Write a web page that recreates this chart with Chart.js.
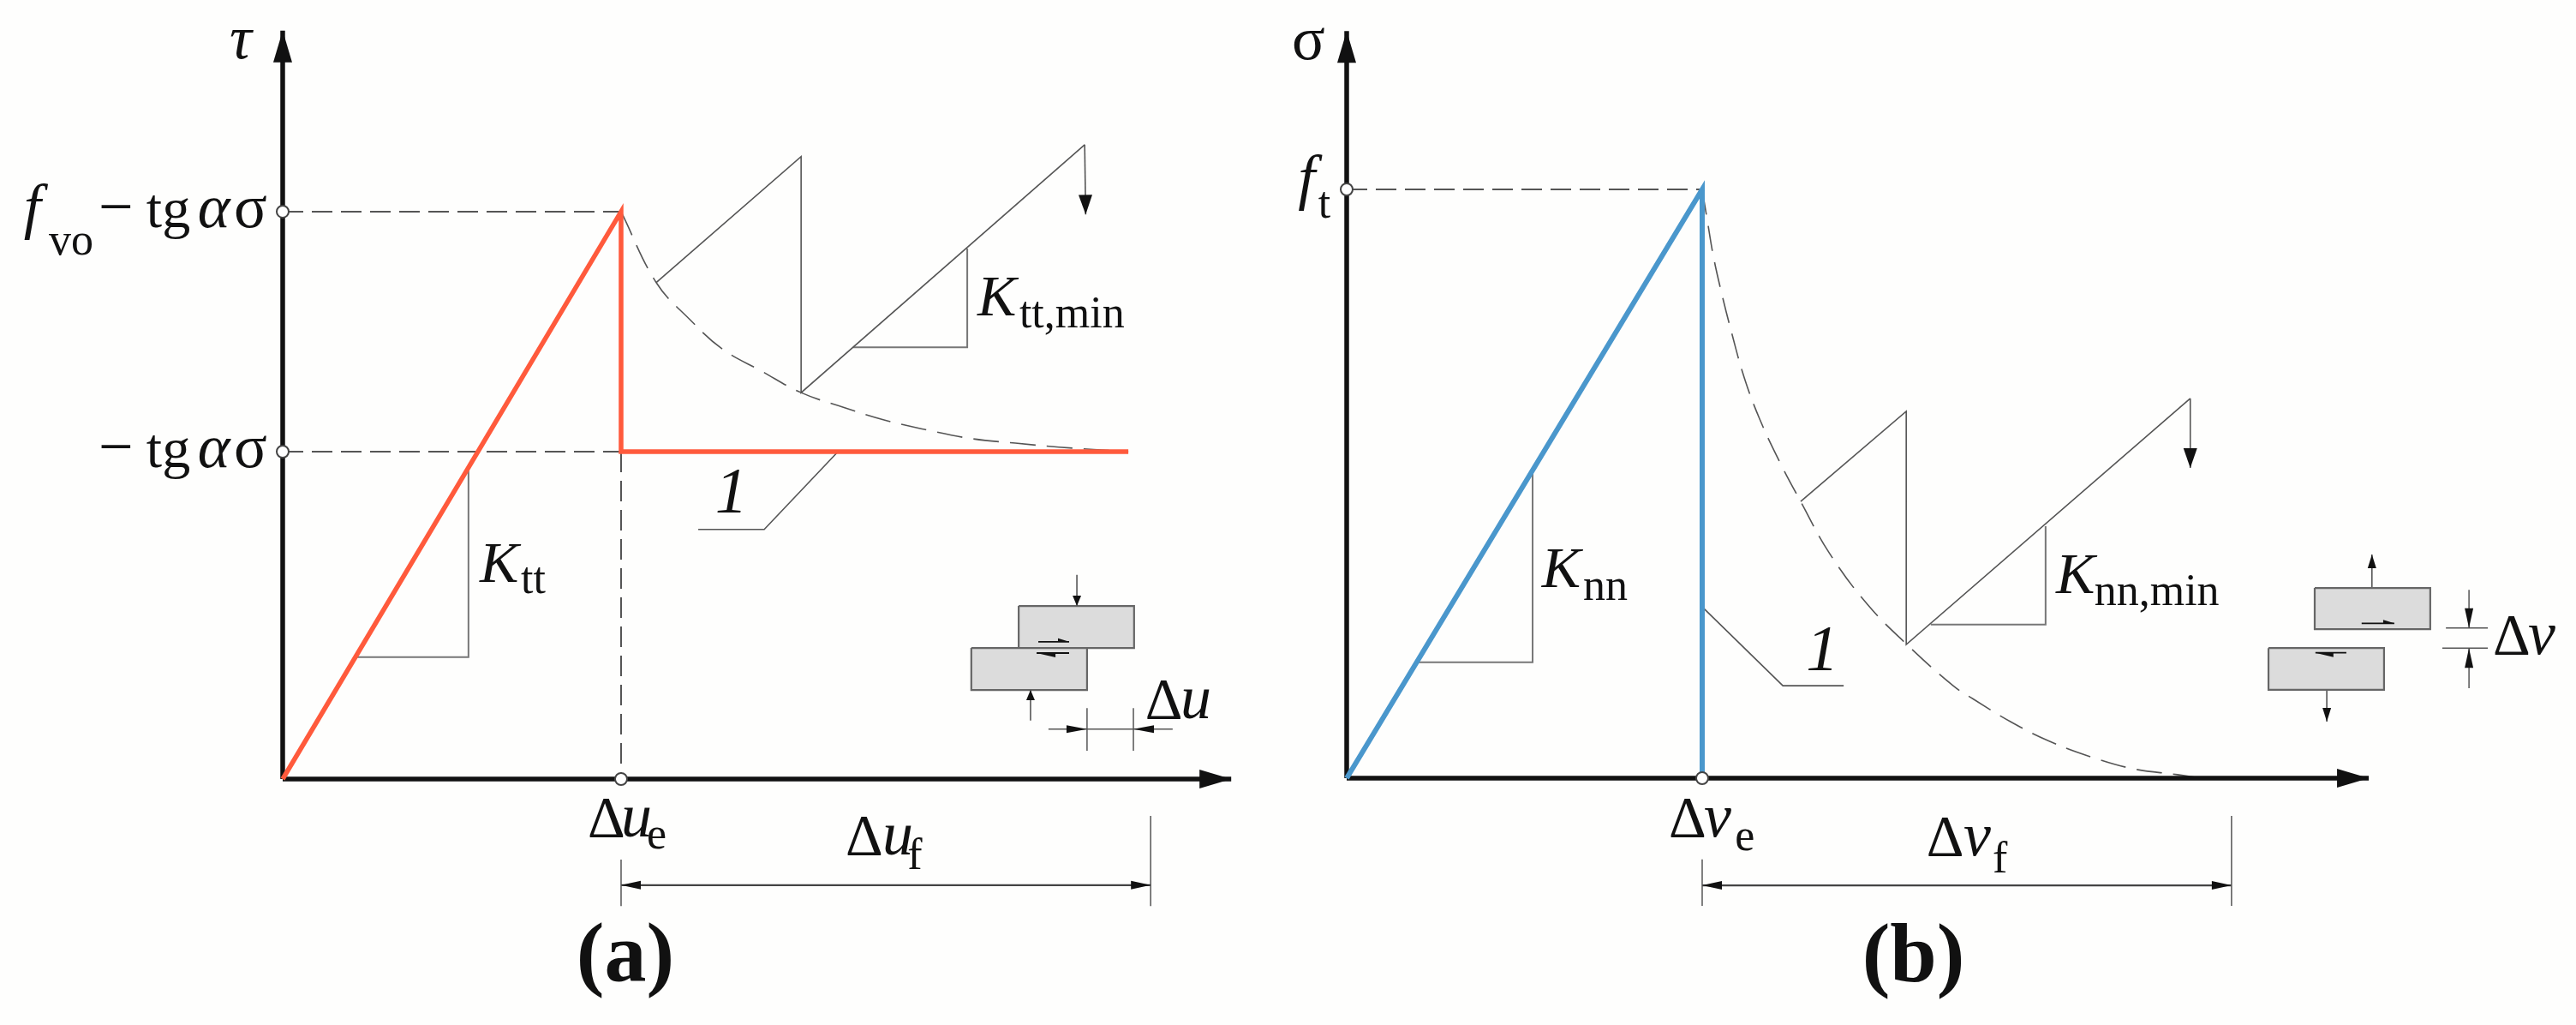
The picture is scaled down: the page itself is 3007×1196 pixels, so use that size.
<!DOCTYPE html>
<html lang="en">
<head>
  <meta charset="UTF-8">
  <title>Cohesive law, shear and tension</title>
  <script src="https://cdn.jsdelivr.net/npm/chart.js"></script>
  <style>
    body { margin: 0; background-color: #fefefd; }
    canvas { position: absolute; top: 0; }
    #panelA { left: 0; }
    #panelB { left: 1500px; }
  </style>
</head>
<body>
  <canvas id="panelA" width="1500" height="1196"></canvas>
  <canvas id="panelB" width="1507" height="1196"></canvas>

  <script>
    // Panel (a), shear: x = 100 at delta u_e, y = 100 at f_vo - tg a s
    const lawA = [[0, 0], [100, 100], [100, 57.7], [249.9, 57.7]];
    const softeningA = [[100, 100], [110.4, 87.5], [120.3, 81], [129.9, 75.8], [141.5, 71.9], [153.2, 68.1], [165.3, 65.6], [177.7, 63.3], [190.6, 61.5], [203.5, 60], [216.5, 59.2], [229.4, 58.5], [249.9, 57.7]];
    const toothA = [[110.4, 87.5], [153.2, 109.7], [153.2, 68.1], [237, 111.8]];
    const unloadA = [[237, 111.8], [237.3, 99.5]];
    const slopeA = [[54.9, 55], [54.9, 21.5], [21.8, 21.5]];
    const slopeMinA = [[202.3, 93.5], [202.3, 76.1], [168.6, 76.1]];
    const leaderA = [[164.1, 57.7], [142.3, 44], [122.8, 44]];
    const guidesA = [[[0, 100], [100, 100]], [[0, 57.7], [100, 57.7]], [[100, 57.7], [100, 0]]];
    const marksA = [[0, 100], [0, 57.7], [100, 0]];
    const axisXA = [[0, 0], [280.3, 0]];
    const axisYA = [[0, 0], [0, 131.9]];
    const extLinesA = [[[100, -14.2], [100, -22.4]], [[256.5, -6.5], [256.5, -22.4]]];
    const spanA = [[100, -18.7], [256.5, -18.7]];
    const blockTopA = [[217.5, 30.5], [251.6, 30.5], [251.6, 23.1], [217.5, 23.1], [217.5, 30.5]];
    const blockLowA = [[203.5, 23.1], [237.7, 23.1], [237.7, 15.7], [203.5, 15.7], [203.5, 23.1]];
    const forcesA = [[[234.7, 36], [234.7, 30.5]], [[221, 10.3], [221, 15.7]]];
    const shearUpA = [[223.3, 24.2], [232.4, 24.2]];
    const shearLowA = [[232.4, 22.2], [222.8, 22.2]];
    const gapTicksA = [[[237.7, 12.5], [237.7, 5]], [[251.4, 12.5], [251.4, 5]]];
    const gapLineA = [[237.7, 8.8], [251.4, 8.8]];
    const gapArrowsA = [[[226.3, 8.8], [237.7, 8.8]], [[263, 8.8], [251.4, 8.8]]];
    const labelTextA = ['τ', 'f', 'vo', '−', 'tg', 'α', 'σ', '−', 'tg', 'α', 'σ', 'K', 'tt', 'K', 'tt,min', '1', 'Δ', 'u', 'Δ', 'u', 'e', 'Δ', 'u', 'f', '(a)'];

    // Panel (b), tension: x = 100 at delta v_e, y = 100 at f_t
    const lawB = [[0, 0], [100, 100], [100, 0]];
    const softeningB = [[100, 100], [101.4, 94.9], [103.1, 88.8], [105.3, 82.8], [108.4, 75.4], [111.8, 68.1], [116.1, 61.1], [121.9, 53.6], [127.7, 47], [135.7, 38.3], [146.5, 29.5], [157.6, 22.7], [170.6, 15.7], [176.1, 13.5], [186.7, 9.6], [197.6, 6.3], [209.4, 3.6], [221.2, 1.6], [233.7, 0.6], [239.3, 0.1]];
    const toothB = [[127.7, 47], [157.4, 62.3], [157.4, 22.7], [237.3, 64.5]];
    const unloadB = [[237.3, 64.5], [237.3, 52.7]];
    const slopeB = [[52.3, 52.3], [52.3, 19.7], [19.5, 19.7]];
    const slopeMinB = [[196.6, 42.8], [196.6, 26.1], [164.3, 26.1]];
    const leaderB = [[100.5, 28.8], [122.7, 15.7], [139.8, 15.7]];
    const guidesB = [[[0, 100], [100, 100]]];
    const marksB = [[0, 100], [100, 0]];
    const axisXB = [[0, 0], [287.5, 0]];
    const axisYB = [[0, 0], [0, 126.9]];
    const extLinesB = [[[100, -13.8], [100, -21.7]], [[248.9, -6.4], [248.9, -21.7]]];
    const spanB = [[100, -18.2], [248.9, -18.2]];
    const blockTopB = [[272.3, 32.3], [304.8, 32.3], [304.8, 25.3], [272.3, 25.3], [272.3, 32.3]];
    const blockLowB = [[259.3, 22.1], [291.8, 22.1], [291.8, 15], [259.3, 15], [259.3, 22.1]];
    const forcesB = [[[288.4, 32.3], [288.4, 38]], [[275.7, 15], [275.7, 9.6]]];
    const shearUpB = [[285.5, 26.3], [294.7, 26.3]];
    const shearLowB = [[281.2, 21.3], [272.5, 21.3]];
    const gapTicksB = [[[309.2, 25.5], [321, 25.5]], [[308.2, 22.1], [321, 22.1]]];
    const gapArrowsB = [[[315.7, 32], [315.7, 25.5]], [[315.7, 15.3], [315.7, 22.1]]];
    const labelTextB = ['σ', 'f', 't', 'K', 'nn', 'K', 'nn,min', '1', 'Δ', 'v', 'Δ', 'v', 'e', 'Δ', 'v', 'f', '(b)'];

    const RED = '#ff5a3c';
    const BLUE = '#4a97cc';
    const INK = '#111';
    const THIN = '#555';
    const SERIF = '"Liberation Serif", serif';
    const FONTS = {
      main: '72px ' + SERIF,
      tg: '66px ' + SERIF,
      sigma: '72px ' + SERIF,
      ital: 'italic 72px ' + SERIF,
      num: 'italic 76px ' + SERIF,
      delta: '68px ' + SERIF,
      k: 'italic 68px ' + SERIF,
      sub: '52px ' + SERIF,
      bold: 'bold 98px ' + SERIF
    };

    // where each label goes: x, baseline y (data units), font
    const labelSpotsA = [
      [-15.7, 127, 'ital'], [-76.5, 97.3, 'ital'], [-69.1, 92.4, 'sub'], [-54.4, 97.3, 'main'], [-40.3, 97.3, 'tg'], [-25.1, 97.3, 'ital'], [-14.4, 97.3, 'sigma'],
      [-54.4, 55, 'main'], [-40.3, 55, 'tg'], [-25.1, 55, 'ital'], [-14.4, 55, 'sigma'],
      [58.2, 34.7, 'k'], [70.4, 32.8, 'sub'], [205.3, 81.7, 'k'], [217.7, 79.6, 'sub'],
      [127.8, 47, 'num'], [254.9, 10.7, 'delta'], [265.3, 10.7, 'ital'],
      [90.1, -10.1, 'delta'], [100, -10.1, 'ital'], [107.6, -12.2, 'sub'],
      [166.3, -13.3, 'delta'], [177.2, -13.3, 'ital'], [184.6, -15.9, 'sub'],
      [86.8, -35.5, 'bold']
    ];
    const labelSpotsB = [
      [-15.4, 122.1, 'sigma'], [-13.7, 98.5, 'ital'], [-8, 95.2, 'sub'],
      [54.9, 32.5, 'k'], [66.5, 30.3, 'sub'], [199.5, 31.4, 'k'], [210.3, 29.4, 'sub'],
      [129.2, 18.3, 'num'], [322.4, 21.1, 'delta'], [332.3, 21.1, 'ital'],
      [90.6, -9.9, 'delta'], [100.5, -9.9, 'ital'], [109.2, -12.2, 'sub'],
      [163.1, -13.1, 'delta'], [173.5, -13.1, 'ital'], [181.7, -16, 'sub'],
      [145, -34.5, 'bold']
    ];

    function toXY(points) {
      return points.map(p => ({ x: p[0], y: p[1] }));
    }

    function line(points, color, width, extra) {
      return Object.assign({
        data: toXY(points),
        showLine: true,
        borderColor: color,
        borderWidth: width,
        borderCapStyle: 'butt',
        borderJoinStyle: 'miter',
        fill: false,
        clip: false
      }, extra || {});
    }

    function block(points) {
      return line(points, '#666', 2.2, { fill: 'shape', backgroundColor: '#dcdcdc' });
    }

    function marks(points) {
      return {
        data: toXY(points),
        showLine: false,
        pointRadius: 7,
        pointBorderWidth: 2,
        pointBackgroundColor: '#fff',
        pointBorderColor: '#444',
        clip: false
      };
    }

    const GUIDE = { borderDash: [24, 10] };
    const CURVE = { borderDash: [30, 13], tension: 0.4 };
    const AXIS_HEAD = { arrow: { len: 37, half: 11 } };
    const SMALL_HEAD = { arrow: { len: 23, half: 5 } };
    const DOWN_HEAD = { arrow: { len: 23, half: 8 } };
    const GAP_HEAD = { arrow: { len: 24, half: 4.5 } };

    // draws arrow heads at the last point of a dataset
    const arrowPlugin = {
      id: 'arrowHeads',
      afterDatasetsDraw(chart) {
        const ctx = chart.ctx;
        chart.data.datasets.forEach((ds, i) => {
          if (!ds.arrow) return;
          const pts = chart.getDatasetMeta(i).data;
          const ends = ds.arrow.both ? [[pts[1], pts[0]], [pts[0], pts[1]]] : [[pts[pts.length - 2], pts[pts.length - 1]]];
          ends.forEach(([from, tip]) => {
            const d = Math.hypot(tip.x - from.x, tip.y - from.y);
            const ux = (tip.x - from.x) / d;
            const uy = (tip.y - from.y) / d;
            const bx = tip.x - ux * ds.arrow.len;
            const by = tip.y - uy * ds.arrow.len;
            const h = ds.arrow.half;
            ctx.save();
            ctx.fillStyle = INK;
            ctx.beginPath();
            ctx.moveTo(tip.x, tip.y);
            if (ds.arrow.side) {
              ctx.lineTo(bx - uy * h * ds.arrow.side, by + ux * h * ds.arrow.side);
              ctx.lineTo(bx, by);
            } else {
              ctx.lineTo(bx - uy * h, by + ux * h);
              ctx.lineTo(bx + uy * h, by - ux * h);
            }
            ctx.closePath();
            ctx.fill();
            ctx.restore();
          });
        });
      }
    };

    // text goes on top, placed through the scales
    const labelPlugin = {
      id: 'mathLabels',
      afterDraw(chart) {
        const ctx = chart.ctx;
        const opts = chart.options.plugins.mathLabels;
        ctx.save();
        ctx.fillStyle = INK;
        ctx.textBaseline = 'alphabetic';
        ctx.textAlign = 'left';
        opts.texts.forEach((text, i) => {
          const spot = opts.spots[i];
          ctx.font = FONTS[spot[2]];
          ctx.fillText(text, chart.scales.x.getPixelForValue(spot[0]), chart.scales.y.getPixelForValue(spot[1]));
        });
        ctx.restore();
      }
    };

    function makePanel(id, xMin, xMax, yMin, yMax, datasets, texts, spots) {
      return new Chart(document.getElementById(id).getContext('2d'), {
        type: 'scatter',
        data: { datasets: datasets },
        options: {
          responsive: false,
          animation: false,
          layout: { padding: 0, autoPadding: false },
          elements: { point: { radius: 0 } },
          scales: {
            x: { type: 'linear', min: xMin, max: xMax, display: false },
            y: { type: 'linear', min: yMin, max: yMax, display: false }
          },
          plugins: {
            legend: { display: false },
            tooltip: { enabled: false },
            mathLabels: { texts: texts, spots: spots }
          }
        },
        plugins: [arrowPlugin, labelPlugin]
      });
    }

    // first dataset ends up on top
    const datasetsA = [
      marks(marksA),
      line(lawA, RED, 5.5),
      line(axisXA, INK, 5.5, AXIS_HEAD),
      line(axisYA, INK, 5.5, AXIS_HEAD),
      line(softeningA, THIN, 1.6, CURVE),
      line(toothA, THIN, 1.6),
      line(unloadA, THIN, 1.6, DOWN_HEAD),
      line(slopeA, '#777', 2),
      line(slopeMinA, '#777', 2),
      line(leaderA, THIN, 1.6),
      ...guidesA.map(g => line(g, THIN, 2, GUIDE)),
      ...extLinesA.map(g => line(g, THIN, 1.5)),
      line(spanA, '#444', 2.2, { arrow: { len: 23, half: 5, both: true } }),
      line(shearUpA, INK, 1.8, { arrow: { len: 13, half: 4, side: -1 } }),
      line(shearLowA, INK, 1.8, { arrow: { len: 22, half: 5, side: -1 } }),
      block(blockLowA),
      block(blockTopA),
      ...forcesA.map(g => line(g, THIN, 1.6, { arrow: { len: 12, half: 5 } })),
      ...gapTicksA.map(g => line(g, THIN, 1.5)),
      line(gapLineA, THIN, 1.5),
      ...gapArrowsA.map(g => line(g, THIN, 1.5, GAP_HEAD))
    ];

    const datasetsB = [
      marks(marksB),
      line(lawB, BLUE, 6),
      line(axisXB, INK, 5.5, AXIS_HEAD),
      line(axisYB, INK, 5.5, AXIS_HEAD),
      line(softeningB, THIN, 1.6, CURVE),
      line(toothB, THIN, 1.6),
      line(unloadB, THIN, 1.6, DOWN_HEAD),
      line(slopeB, '#777', 2),
      line(slopeMinB, '#777', 2),
      line(leaderB, THIN, 1.6),
      ...guidesB.map(g => line(g, THIN, 2, GUIDE)),
      ...extLinesB.map(g => line(g, THIN, 1.5)),
      line(spanB, '#444', 2.2, { arrow: { len: 23, half: 5, both: true } }),
      line(shearUpB, INK, 1.8, { arrow: { len: 13, half: 4, side: -1 } }),
      line(shearLowB, INK, 1.8, { arrow: { len: 21, half: 5, side: -1 } }),
      block(blockLowB),
      block(blockTopB),
      ...forcesB.map(g => line(g, THIN, 1.6, { arrow: { len: 16, half: 5 } })),
      ...gapTicksB.map(g => line(g, THIN, 1.5)),
      ...gapArrowsB.map(g => line(g, THIN, 1.5, SMALL_HEAD))
    ];

    makePanel('panelA', -83.54, 296.2, -43.35, 137.3, datasetsA, labelTextA, labelSpotsA);
    makePanel('panelB', -17.35, 345.8, -41.92, 132.17, datasetsB, labelTextB, labelSpotsB);
  </script>
</body>
</html>
